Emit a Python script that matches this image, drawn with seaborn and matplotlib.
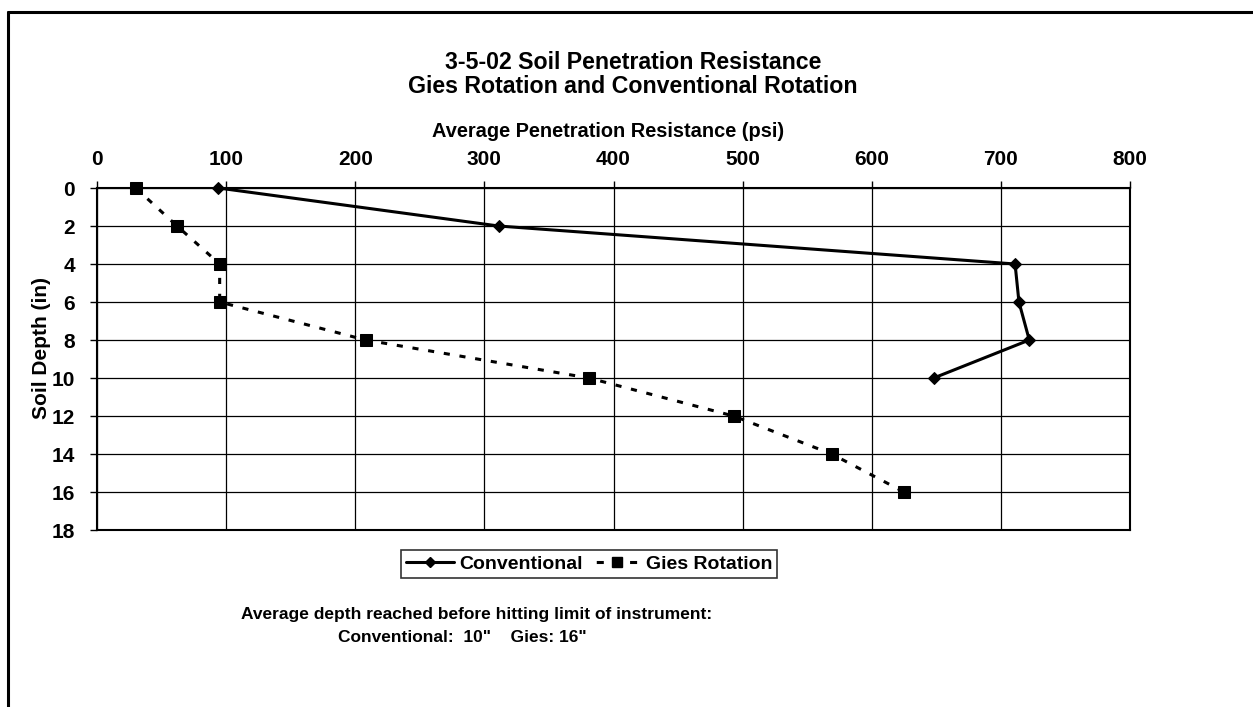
import numpy as np
import pandas as pd
import seaborn as sns
import matplotlib.pyplot as plt
from matplotlib.lines import Line2D

# data
depth = [0, 2, 4, 6, 8, 10, 12, 14, 16]
conventional = [94, 311, 711, 714, 722, 648]
gies = [30, 62, 95, 95, 208, 381, 493, 569, 625]

conv_df = pd.DataFrame({"depth": depth[:len(conventional)], "psi": conventional})
gies_df = pd.DataFrame({"depth": depth, "psi": gies})

x_ticks = list(range(0, 801, 100))
y_ticks = list(range(0, 19, 2))

sns.set_theme(style="white")
plt.rcParams["font.family"] = ["Liberation Sans", "DejaVu Sans"]
plt.rcParams["font.weight"] = "bold"
plt.rcParams["text.color"] = "black"
plt.rcParams["axes.labelcolor"] = "black"
plt.rcParams["xtick.color"] = "black"
plt.rcParams["ytick.color"] = "black"

DASH = (0, (2.0, 3.2))

W, H = 1253, 707
fig = plt.figure(figsize=(W / 100, H / 100), dpi=100)
ax = fig.add_axes([97 / W, 1 - 530 / H, (1130 - 97) / W, (530 - 188) / H])

sns.lineplot(data=conv_df, x="psi", y="depth", sort=False, estimator=None,
             color="black", linewidth=2.2, marker="D", markersize=6,
             markeredgecolor="black", ax=ax, label="Conventional")
sns.lineplot(data=gies_df, x="psi", y="depth", sort=False, estimator=None,
             color="black", linewidth=2.2, marker="s", markersize=9,
             markeredgecolor="black", dashes=False, ax=ax, label="Gies Rotation")
ax.lines[1].set_linestyle(DASH)
for ln in ax.lines:
    ln.set_clip_on(False)
    ln.set_zorder(5)

ax.set_xlim(0, 800)
ax.set_ylim(18, 0)
ax.set_xticks(x_ticks)
ax.set_yticks(y_ticks)
ax.xaxis.tick_top()
ax.xaxis.set_label_position("top")
ax.tick_params(axis="both", labelsize=15, length=5, width=1, color="black",
               direction="out")
ax.tick_params(axis="x", top=True, bottom=False, pad=9)
ax.tick_params(axis="y", left=True, pad=11)
for lbl in ax.get_xticklabels() + ax.get_yticklabels():
    lbl.set_fontweight("bold")

ax.grid(True, color="black", linewidth=0.9)
for s in ax.spines.values():
    s.set_color("black")
    s.set_linewidth(1.5)

ax.set_xlabel("Average Penetration Resistance (psi)", fontsize=14.4,
              fontweight="bold")
ax.xaxis.set_label_coords((608 - 97) / 1033, (530 - 137) / 342)
ax.set_ylabel("Soil Depth (in)", fontsize=15, fontweight="bold")
ax.yaxis.set_label_coords((51 - 97) / 1033, (530 - 348) / 342)

fig.text(633 / W, 1 - 69 / H, "3-5-02 Soil Penetration Resistance",
         ha="center", va="baseline", fontsize=16.7, fontweight="bold")
fig.text(633 / W, 1 - 93 / H, "Gies Rotation and Conventional Rotation",
         ha="center", va="baseline", fontsize=16.7, fontweight="bold")

# legend handles: dashes placed either side of the square like the original
handles = [
    Line2D([], [], color="black", linewidth=2.2, marker="D", markersize=5),
    Line2D([], [], color="black", linewidth=2.2, marker="s", markersize=7,
           linestyle=(9.5, (2.3, 8.6))),
]
leg = fig.legend(handles, ["Conventional", "Gies Rotation"], ncol=2,
                 loc="center", bbox_to_anchor=(589 / W, 1 - 564 / H),
                 frameon=True, fancybox=False, edgecolor="black",
                 prop={"size": 14, "weight": "bold"}, handlelength=2.5,
                 columnspacing=0.5, handletextpad=0.25, borderpad=0.25,
                 borderaxespad=0)
leg.get_frame().set_linewidth(1.2)
ax.get_legend().remove()

fig.text(477 / W, 1 - 615 / H,
         "Average depth reached before hitting limit of instrument:",
         ha="center", va="center", fontsize=12.5, fontweight="bold")
fig.text(462 / W, 1 - 637 / H, 'Conventional:  10"    Gies: 16"',
         ha="center", va="center", fontsize=12.5, fontweight="bold")

# outer chart border (left and top edges)
fig.add_artist(Line2D([7.5 / W, 7.5 / W], [0, 1 - 12 / H], color="black",
                      linewidth=2.2, transform=fig.transFigure))
fig.add_artist(Line2D([7.5 / W, 1], [1 - 12 / H, 1 - 12 / H], color="black",
                      linewidth=2.2, transform=fig.transFigure))

fig.savefig("out.png", dpi=100)
